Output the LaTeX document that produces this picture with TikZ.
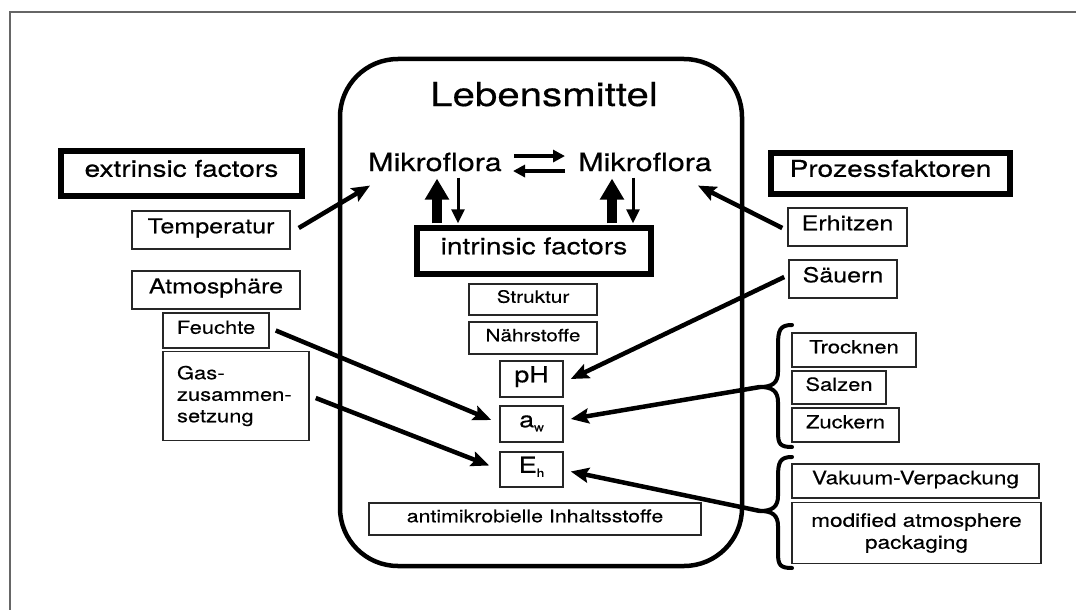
\documentclass[tikz,border=0pt]{standalone}
\usepackage{fontspec}
\setmainfont{TeX Gyre Heros}[FakeStretch=1.22,FakeBold=0.4]
\usetikzlibrary{arrows.meta,calc}
\newcommand{\fsz}[1]{\fontsize{#1}{#1}\selectfont}
\newcommand{\mysub}[1]{\raisebox{-4pt}{\fontsize{11}{11}\selectfont #1}}
\begin{document}
\begin{tikzpicture}[x=1pt,y=-1pt,
  box/.style={draw=black!85, line width=1.5pt, inner sep=0pt, text height=.8em, text depth=.15em, align=center},
  tbox/.style={draw=black, line width=6pt, inner sep=0pt, text height=.8em, text depth=.15em},
  fat/.style={line width=4.5pt, -{Stealth[length=18pt,width=15pt,inset=3pt]}},
  bigup/.style={line width=10pt, -{Triangle[length=21pt,width=23pt]}},
  thindown/.style={line width=3pt, -{Triangle[length=14pt,width=13pt]}},
  eqarr/.style={line width=4pt, -{Triangle[length=12pt,width=12pt]}},
  brace/.style={line width=4pt, line cap=round, line join=round}]
\useasboundingbox (0,0) rectangle (1076,610);
% outer frame
\draw[black!60, line width=2pt] (10,610) -- (10,12) -- (1076,12);
% food box
\node[draw, line width=4.5pt, rounded corners=58pt, minimum width=402pt, minimum height=507pt, inner sep=0pt] (food) at (541,312.5) {};
\node[font=\fsz{33}, inner sep=0pt, anchor=base] (leb) at (544,106) {Lebensmittel};
\node[font=\fsz{25}, inner sep=0pt, anchor=base west] (mik1) at (368,171) {Mikroflora};
\node[font=\fsz{25}, inner sep=0pt, anchor=base east] (mik2) at (712,171) {Mikroflora};
\node[tbox, font=\fsz{23}, minimum width=234.5pt, minimum height=45.5pt] (intr) at (534,251) {intrinsic factors};
\node[box, font=\fsz{17}, minimum width=128pt, minimum height=31pt] (strukt) at (533,299.5) {Struktur};
\node[box, font=\fsz{17}, minimum width=128pt, minimum height=32pt] (naehr) at (533,338) {Nährstoffe};
\node[box, font=\fsz{22}, minimum width=63pt, minimum height=36pt] (ph) at (531.5,379) {pH};
\node[box, font=\fsz{22}, minimum width=63pt, minimum height=36pt] (aw) at (531.5,424) {a\mysub{w}};
\node[box, font=\fsz{22}, minimum width=63pt, minimum height=35pt] (eh) at (531.5,469.5) {E\mysub{h}};
\node[box, font=\fsz{17.5}, minimum width=332pt, minimum height=32pt] (anti) at (535,519) {antimikrobielle Inhaltsstoffe};
% left
\node[tbox, font=\fsz{23}, minimum width=241pt, minimum height=45pt] (ext) at (181.5,173.5) {extrinsic factors};
\node[box, font=\fsz{20.5}, minimum width=158pt, minimum height=38pt] (temp) at (211,230) {Temperatur};
\node[box, font=\fsz{20.5}, minimum width=168pt, minimum height=38pt] (atmo) at (216,290) {Atmosphäre};
\node[box, font=\fsz{18}, minimum width=106pt, minimum height=35pt] (feu) at (216,330.5) {Feuchte};
\node[draw=black!85, line width=1.5pt, inner xsep=14pt, inner ysep=0pt, text width=118pt, align=left, minimum height=89pt, font=\fontsize{18}{21.5}\selectfont] (gas) at (236,396) {Gas-\\zusammen-\\setzung};
% right
\node[tbox, font=\fsz{23}, minimum width=239pt, minimum height=41pt] (proz) at (890.5,173.5) {Prozessfaktoren};
\node[box, font=\fsz{20.5}, minimum width=119pt, minimum height=38pt] (erh) at (847.5,227) {Erhitzen};
\node[box, font=\fsz{20.5}, minimum width=108pt, minimum height=38pt] (sau) at (843,279) {Säuern};
\node[box, font=\fsz{18}, minimum width=124pt, minimum height=34pt] (tro) at (854,350) {Trocknen};
\node[box, font=\fsz{18}, minimum width=94pt, minimum height=33pt] (sal) at (839,387.5) {Salzen};
\node[box, font=\fsz{18}, minimum width=107pt, minimum height=34pt] (zuc) at (845.5,425) {Zuckern};
\node[box, font=\fsz{18.5}, minimum width=247pt, minimum height=34pt] (vak) at (915.5,481) {Vakuum-Verpackung};
\node[draw=black!85, line width=1.5pt, inner sep=0pt, align=center, minimum width=249pt, minimum height=61pt, font=\fontsize{18.5}{22}\selectfont] (mod) at (916.5,533) {modified atmosphere\\packaging};
% braces
\draw[brace] (792,325) .. controls (780,325) and (778,330) .. (778,345) -- (778,372) .. controls (778,383) and (772,387) .. (760,387) .. controls (772,387) and (778,391) .. (778,402) -- (778,432) .. controls (778,444) and (780,447) .. (792,447);
\draw[brace] (792,457) .. controls (780,457) and (778,462) .. (778,477) -- (778,496) .. controls (778,507) and (772,511) .. (760,511) .. controls (772,511) and (778,515) .. (778,526) -- (778,553) .. controls (778,565) and (780,568) .. (792,568);
\coordinate (b1) at (760,387);
\coordinate (b2) at (760,511);
% equilibrium
\coordinate (eqm) at ($(mik1.east)!.5!(mik2.west)$);
\draw[eqarr] ([shift={(-26,-6)}]eqm) -- ([shift={(25,-6)}]eqm);
\draw[eqarr] ([shift={(25,9)}]eqm) -- ([shift={(-27,9)}]eqm);
% vertical arrows
\coordinate (l1) at ([xshift=-97pt]intr.north);
\coordinate (l2) at ([xshift=-76pt]intr.north);
\coordinate (r1) at ([xshift=78pt]intr.north);
\coordinate (r2) at ([xshift=99pt]intr.north);
\draw[bigup, shorten <=2pt, shorten >=7pt] (l1) -- (l1 |- mik1.south);
\draw[thindown, shorten <=6pt, shorten >=2pt] (l2 |- mik1.south) -- (l2);
\draw[bigup, shorten <=2pt, shorten >=7pt] (r1) -- (r1 |- mik2.south);
\draw[thindown, shorten <=6pt, shorten >=2pt] (r2 |- mik2.south) -- (r2);
% arrows
\draw[fat] ([shift={(8,-2)}]temp.east) -- ([shift={(2,14)}]mik1.south west);
\draw[fat] ([shift={(-5,1)}]erh.west) -- ([shift={(-14,14)}]mik2.south east);
\draw[fat] ([shift={(-4,-2)}]sau.west) -- ([shift={(7,0)}]ph.east);
\draw[fat] ([shift={(6,0)}]feu.east) -- ([shift={(-8,-4)}]aw.west);
\draw[fat] ([shift={(6,2)}]gas.east) -- ([shift={(-10,-4)}]eh.west);
\draw[fat] (b1) -- ([shift={(7,-5)}]aw.east);
\draw[fat] (b2) -- ([shift={(7,2)}]eh.east);
\end{tikzpicture}
\end{document}
